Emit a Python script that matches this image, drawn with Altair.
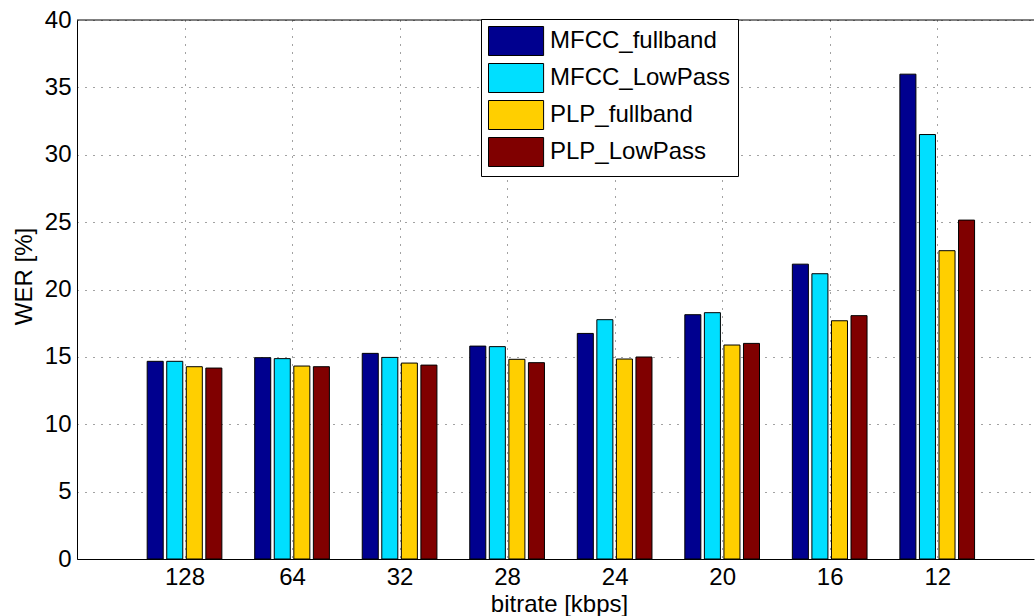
import altair as alt
import pandas as pd

bitrates = ["128", "64", "32", "28", "24", "20", "16", "12"]
series = ["MFCC_fullband", "MFCC_LowPass", "PLP_fullband", "PLP_LowPass"]
colors = ["#00008F", "#00DFFF", "#FFCF00", "#800000"]

mfcc_full = [14.67, 14.94, 15.26, 15.80, 16.74, 18.13, 21.88, 35.98]
mfcc_low = [14.67, 14.87, 14.96, 15.76, 17.76, 18.28, 21.17, 31.50]
plp_full = [14.27, 14.32, 14.54, 14.82, 14.84, 15.88, 17.68, 22.88]
plp_low = [14.17, 14.27, 14.39, 14.57, 14.99, 16.00, 18.06, 25.15]
values = [mfcc_full, mfcc_low, plp_full, plp_low]

# grouped-bar layout (MATLAB style grouping)
n = len(series)
group_w = min(0.8, n / (n + 1.5))
pitch = group_w / n
bar_w = 0.82 * pitch
rows = []
for k, (name, vals) in enumerate(zip(series, values)):
    for i, (b, v) in enumerate(zip(bitrates, vals)):
        center = (i + 1) + (k - (n - 1) / 2) * pitch
        rows.append(dict(series=name, bitrate=b, order=k,
                         x0=center - bar_w / 2, x1=center + bar_w / 2, wer=v))
df = pd.DataFrame(rows)

label_expr = "['', " + ", ".join(f"'{b}'" for b in bitrates) + "][datum.value]"
FONT = "Liberation Sans"

bars = alt.Chart(df).mark_rect(stroke="black", strokeWidth=1).encode(
    x=alt.X("x0:Q",
            scale=alt.Scale(domain=[0, 8.9], nice=False, zero=False),
            axis=alt.Axis(values=list(range(1, len(bitrates) + 1)), labelExpr=label_expr,
                          title="bitrate [kbps]", grid=True, tickSize=0, labelPadding=6,
                          titleX=482, titleY=52, titleBaseline="alphabetic")),
    x2="x1:Q",
    y=alt.Y("wer:Q",
            scale=alt.Scale(domain=[0, 40], nice=False),
            axis=alt.Axis(values=list(range(0, 41, 5)), title="WER [%]", grid=True,
                          tickSize=0, labelPadding=6, titleX=-53, titleY=256,
                          titleBaseline="middle", titleAlign="center", titleAngle=270)),
    y2=alt.datum(0),
    color=alt.Color("series:N", scale=alt.Scale(domain=series, range=colors),
                    legend=alt.Legend(title=None, orient="none", legendX=404, legendY=-1,
                                      strokeColor="black", fillColor="white", padding=7,
                                      labelFontSize=24, labelFont=FONT, labelOffset=32,
                                      labelLimit=0,
                                      symbolType="M-1,-1H2.8V1H-1Z", symbolSize=841,
                                      symbolStrokeColor="black", symbolStrokeWidth=1,
                                      symbolOpacity=1, rowPadding=3, labelColor="black")),
    order=alt.Order("order:Q"),
)

top = alt.Chart(pd.DataFrame({"y": [40]})).mark_rule(color="black", strokeWidth=1).encode(
    y=alt.Y("y:Q")
)

chart = alt.layer(bars, top).properties(
    width=957, height=539,
    autosize=alt.AutoSizeParams(type="none"),
    padding={"left": 77, "top": 20, "right": 2, "bottom": 57},
).configure_view(stroke=None).configure_axis(
    labelFont=FONT, titleFont=FONT, labelFontSize=24, titleFontSize=24,
    labelColor="black", titleColor="black", titleFontWeight="normal",
    domainColor="black", domainWidth=1,
    gridColor="#444444", gridDash=[1, 7], gridWidth=1, gridOpacity=1,
)

chart.save("out.html", embed_options={"renderer": "svg", "actions": False})
